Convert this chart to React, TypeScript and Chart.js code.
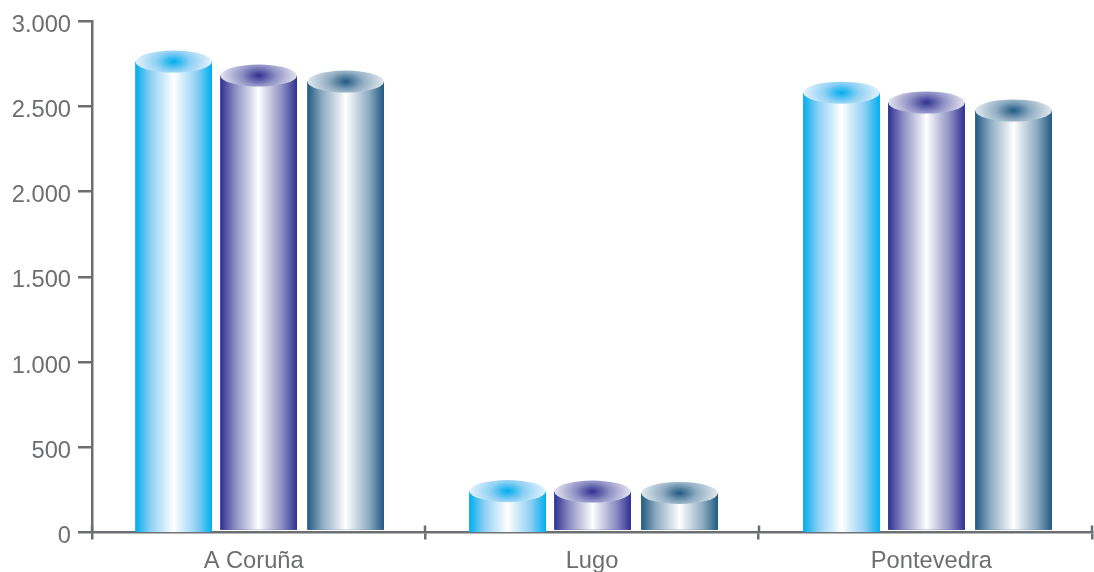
import React, { useEffect, useRef } from "react";
import { Chart, registerables } from "chart.js";

Chart.register(...registerables);

const categories = ["A Coruña", "Lugo", "Pontevedra"];
const seriesA = [2763, 243, 2581];
const seriesB = [2681, 240, 2523];
const seriesC = [2646, 232, 2476];
const seriesNames = ["Serie 1", "Serie 2", "Serie 3"];
const edgeColors = ["#00aeef", "#2e3192", "#215a82"];
const capEdgeColors = ["#e4f3fc", "#e4e4f0", "#e2e9ee"];
const midColors = ["#8fd0f4", "#8f90c4", "#8fadc2"];
const xShift = [1, 0, 1];
const categoryShift = [0, 0.6, 1.2];
const labelShift = [-5, 0, 6];
const baseShift = [0.8, -1.5, -1.5];
const AXIS = "#6d6e71";
const LINE_WIDTH = 2.5;
const FONT = "'Liberation Sans', Arial, sans-serif";

const cylinderPlugin = {
  id: "cylinder",
  afterDatasetsUpdate(chart: any) {
    chart.data.datasets.forEach((_: any, i: number) => {
      chart.getDatasetMeta(i).data.forEach((el: any, j: number) => {
        el.x += xShift[i] + categoryShift[j];
        el.base += baseShift[i];
      });
    });
  },
  beforeDraw(chart: any) {
    const s = chart.scales.x;
    if (s.$shifted) return;
    s.$shifted = true;
    s.getLabelItems(chart.chartArea).forEach((item: any, j: number) => {
      item.options.translation[0] += labelShift[j];
    });
  },
  afterDatasetsDraw(chart: any) {
    const ctx = chart.ctx;
    chart.data.datasets.forEach((_: any, i: number) => {
      chart.getDatasetMeta(i).data.forEach((el: any) => {
        const w = el.width;
        const l = el.x - w / 2;
        const rx = w / 2;
        const ry = 11;
        const squash = 0.55;
        const g = ctx.createLinearGradient(l, 0, l + w, 0);
        g.addColorStop(0, edgeColors[i]);
        g.addColorStop(0.2, midColors[i]);
        g.addColorStop(0.5, "#ffffff");
        g.addColorStop(0.8, midColors[i]);
        g.addColorStop(1, edgeColors[i]);
        ctx.save();
        ctx.fillStyle = g;
        ctx.fillRect(l, el.y, w, el.base - el.y);
        ctx.translate(el.x, el.y);
        ctx.scale(1, squash);
        const r = ctx.createRadialGradient(0, 0, 0, 0, 0, rx);
        r.addColorStop(0, edgeColors[i]);
        r.addColorStop(0.45, midColors[i]);
        r.addColorStop(1, capEdgeColors[i]);
        ctx.fillStyle = r;
        ctx.beginPath();
        ctx.ellipse(0, 0, rx, ry / squash, 0, 0, Math.PI * 2);
        ctx.fill();
        ctx.restore();
      });
    });
  },
  afterDraw(chart: any) {
    const ctx = chart.ctx;
    const s = chart.scales.x;
    ctx.save();
    ctx.strokeStyle = AXIS;
    ctx.lineWidth = LINE_WIDTH;
    for (let i = 0; i <= categories.length; i++) {
      const x = Math.round(s.left + (i * s.width) / categories.length);
      ctx.beginPath();
      ctx.moveTo(x, s.top - 7);
      ctx.lineTo(x, s.top);
      ctx.stroke();
    }
    ctx.restore();
  },
};

export default function App() {
  const ref = useRef<HTMLCanvasElement>(null);
  useEffect(() => {
    document.body.style.margin = "0";
    const values = [seriesA, seriesB, seriesC];
    const chart = new Chart(ref.current as HTMLCanvasElement, {
      type: "bar",
      data: {
        labels: categories,
        datasets: values.map((data, i) => ({
          label: seriesNames[i],
          data,
          backgroundColor: edgeColors[i],
          borderWidth: 0,
          categoryPercentage: 0.774,
          barPercentage: 0.89,
        })),
      },
      options: {
        responsive: false,
        animation: false,
        layout: { padding: { top: 20.5, right: 2, left: 0, bottom: 0 } },
        plugins: { legend: { display: false }, tooltip: { enabled: false } },
        scales: {
          x: {
            afterFit: (s: any) => {
              s.height = 39.5;
            },
            grid: {
              offset: true,
              drawOnChartArea: false,
              color: AXIS,
              tickColor: AXIS,
              lineWidth: LINE_WIDTH,
              tickLength: 7,
            },
            border: { color: AXIS, width: LINE_WIDTH },
            ticks: { color: AXIS, font: { family: FONT, size: 23.7 }, padding: 8, maxRotation: 0 },
          },
          y: {
            min: 0,
            max: 3000,
            afterFit: (s: any) => {
              s.width = 92;
            },
            grid: {
              drawOnChartArea: false,
              color: AXIS,
              tickColor: AXIS,
              lineWidth: LINE_WIDTH,
              tickLength: 14,
            },
            border: { color: AXIS, width: LINE_WIDTH },
            ticks: {
              stepSize: 500,
              color: AXIS,
              padding: 7,
              labelOffset: 4,
              font: { family: FONT, size: 23.7 },
              callback: (v: any) =>
                v < 1000 ? String(v) : `${Math.floor(v / 1000)}.${String(v % 1000).padStart(3, "0")}`,
            },
          },
        },
      },
      plugins: [cylinderPlugin],
    } as any);
    return () => chart.destroy();
  }, []);
  return <canvas ref={ref} width={1094} height={572} style={{ display: "block" }} />;
}
